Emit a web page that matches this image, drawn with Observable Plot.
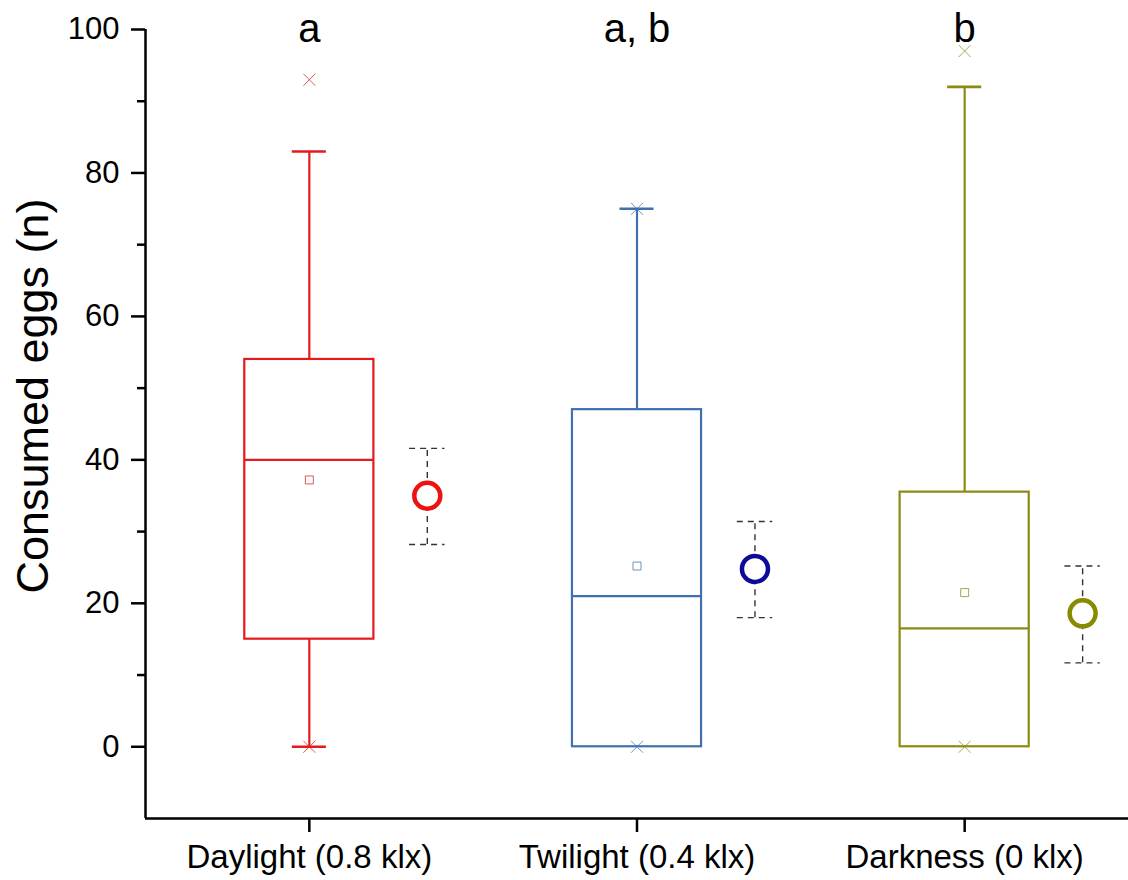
<!DOCTYPE html>
<html>
<head>
<meta charset="utf-8">
<script src="https://cdn.jsdelivr.net/npm/d3@7"></script>
<script src="https://cdn.jsdelivr.net/npm/@observablehq/plot@0.6"></script>
<style>
  html, body { margin: 0; padding: 0; background: #fff; }
  #chart { width: 1128px; height: 880px; }
</style>
</head>
<body>
<div id="chart"></div>
<script>
const groups = ["Daylight (0.8 klx)", "Twilight (0.4 klx)", "Darkness (0 klx)"];
const whiskerLow = [0, 0, 0];
const q1 = [15, 0, 0];
const median = [40, 21, 16.5];
const q3 = [54, 47, 35.5];
const whiskerHigh = [83, 75, 92];
const boxMean = [37.2, 25.2, 21.5];
const minMarker = [0, 0, 0];
const maxMarker = [93, 75, 97];
const estMean = [35, 24.8, 18.6];
const estLow = [28.2, 18, 11.7];
const estHigh = [41.6, 31.4, 25.2];
const letters = ["a", "a, b", "b"];
const boxColors = ["#e41a1c", "#4070b0", "#8c8a12"];
const circleColors = ["#ee1111", "#0c0c99", "#8a8a00"];
const yTicks = [0, 20, 40, 60, 80, 100];
const yMinorTicks = [10, 30, 50, 70, 90];

const data = groups.map((g, i) => ({
  g, i: i + 1,
  lo: whiskerLow[i], q1: q1[i], med: median[i], q3: q3[i], hi: whiskerHigh[i],
  mean: boxMean[i], mn: minMarker[i], mx: maxMarker[i],
  em: estMean[i], el: estLow[i], eh: estHigh[i],
  letter: letters[i], bc: boxColors[i], cc: circleColors[i]
}));

const boxHalf = 0.197, capHalf = 0.052, off = 0.36, ecapHalf = 0.054;
const lowWhisk = data.filter(d => d.q1 > d.lo);

const chart = Plot.plot({
  width: 1128,
  height: 880,
  marginLeft: 145,
  marginRight: 0,
  marginTop: 29,
  marginBottom: 62,
  style: { fontFamily: "'Liberation Sans', Arial, sans-serif", color: "#000", background: "#fff" },
  x: { type: "linear", domain: [0.5, 3.5] },
  y: { domain: [-10, 100] },
  marks: [
    // axes
    Plot.axisY({ ticks: yTicks, tickSize: 14, tickPadding: 12, fontSize: 31, strokeWidth: 2.5, label: null }),
    Plot.axisY({ ticks: yMinorTicks, tickSize: 8, text: null, strokeWidth: 2.5, label: null }),
    Plot.axisX({ ticks: [1, 2, 3], tickFormat: v => groups[Math.round(v) - 1], tickSize: 14, tickPadding: 12, fontSize: 33, strokeWidth: 2.5, label: null }),
    Plot.ruleX([0.5], { y1: -10, y2: 100, strokeWidth: 2.5, stroke: "#000" }),
    Plot.ruleY([-10], { strokeWidth: 2.5, stroke: "#000" }),
    // y label
    Plot.text(["Consumed eggs (n)"], { frameAnchor: "left", textAnchor: "middle", dx: -112, dy: -28, rotate: -90, fontSize: 45, fill: "#000", text: d => d }),
    // whiskers
    Plot.ruleX(data, { x: "i", y1: "q3", y2: "hi", stroke: "bc", strokeWidth: 2.2 }),
    Plot.ruleY(data, { y: "hi", x1: d => d.i - capHalf, x2: d => d.i + capHalf, stroke: "bc", strokeWidth: 2.6 }),
    Plot.ruleX(lowWhisk, { x: "i", y1: "lo", y2: "q1", stroke: "bc", strokeWidth: 2.2 }),
    Plot.ruleY(lowWhisk, { y: "lo", x1: d => d.i - capHalf, x2: d => d.i + capHalf, stroke: "bc", strokeWidth: 2.6 }),
    // boxes
    Plot.rect(data, { x1: d => d.i - boxHalf, x2: d => d.i + boxHalf, y1: "q1", y2: "q3", stroke: "bc", fill: "none", strokeWidth: 2.2 }),
    Plot.ruleY(data, { y: "med", x1: d => d.i - boxHalf, x2: d => d.i + boxHalf, stroke: "bc", strokeWidth: 2.2 }),
    // mean squares and min/max markers
    Plot.dot(data, { x: "i", y: "mean", symbol: "square", r: 4.5, stroke: "bc", strokeWidth: 1, strokeOpacity: 0.75, fill: "none" }),
    Plot.dot(data, { x: "i", y: "mn", symbol: "times", r: 5.5, stroke: "bc", strokeWidth: 1, strokeOpacity: 0.75 }),
    Plot.dot(data, { x: "i", y: "mx", symbol: "times", r: 5.5, stroke: "bc", strokeWidth: 1, strokeOpacity: 0.75 }),
    // estimated means with dashed error bars
    Plot.ruleX(data, { x: d => d.i + off, y1: "el", y2: "eh", stroke: "#333", strokeWidth: 1.4, strokeDasharray: "6,5" }),
    Plot.ruleY(data, { y: "eh", x1: d => d.i + off - ecapHalf, x2: d => d.i + off + ecapHalf, stroke: "#333", strokeWidth: 1.4, strokeDasharray: "6,5" }),
    Plot.ruleY(data, { y: "el", x1: d => d.i + off - ecapHalf, x2: d => d.i + off + ecapHalf, stroke: "#333", strokeWidth: 1.4, strokeDasharray: "6,5" }),
    Plot.dot(data, { x: d => d.i + off, y: "em", r: 13, stroke: "cc", strokeWidth: 4.5, fill: "#fff" }),
    // significance letters
    Plot.text(data, { x: "i", y: () => 100, text: "letter", fontSize: 40, fill: "#000" })
  ]
});
document.getElementById("chart").appendChild(chart);
</script>
</body>
</html>
